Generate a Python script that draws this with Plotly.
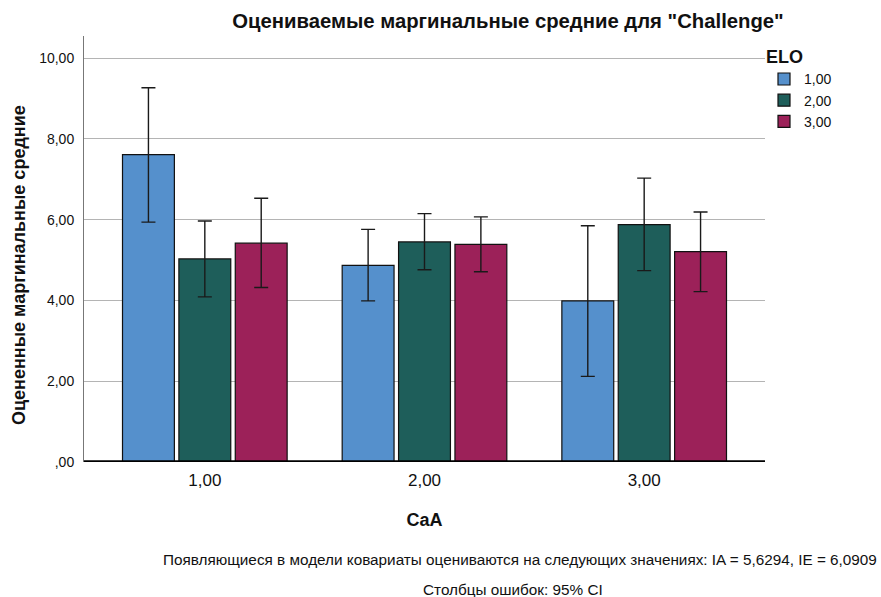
import plotly.graph_objects as go

categories = ["1,00", "2,00", "3,00"]
series_names = ["1,00", "2,00", "3,00"]
means = {
    "1,00": [7.61, 4.87, 3.99],
    "2,00": [5.03, 5.45, 5.88],
    "3,00": [5.42, 5.39, 5.21],
}
ci_upper = {
    "1,00": [9.27, 5.76, 5.85],
    "2,00": [5.97, 6.15, 7.03],
    "3,00": [6.53, 6.07, 6.19],
}
ci_lower = {
    "1,00": [5.94, 3.99, 2.12],
    "2,00": [4.09, 4.76, 4.74],
    "3,00": [4.32, 4.71, 4.22],
}
colors = {"1,00": "#5590CC", "2,00": "#1E5E5A", "3,00": "#9C2159"}
y_ticks = [0, 2, 4, 6, 8, 10]
y_tick_labels = [",00", "2,00", "4,00", "6,00", "8,00", "10,00"]

FONT = "Liberation Sans Narrow, Arial Narrow, Liberation Sans, Arial, sans-serif"

L, R, T, B = 84, 765, 36, 462
PW, PH = R - L, B - T

fig = go.Figure()
for s in series_names:
    m = means[s]
    up = [u - v for u, v in zip(ci_upper[s], m)]
    lo = [v - l for v, l in zip(m, ci_lower[s])]
    fig.add_trace(go.Bar(
        x=[1, 2, 3], y=m, name=s,
        marker=dict(color=colors[s], line=dict(color="#111111", width=1.2)),
        error_y=dict(type="data", symmetric=False, array=up, arrayminus=lo,
                     color="#1a1a1a", thickness=1.4, width=7),
    ))

fig.update_layout(
    width=881, height=597,
    margin=dict(l=L, r=881 - R, t=T, b=597 - B, autoexpand=False),
    paper_bgcolor="white", plot_bgcolor="white",
    barmode="group", bargap=0.23, bargroupgap=0.08,
    font=dict(family=FONT, color="#111111", size=14),
    title=dict(text='Оцениваемые маргинальные средние для "Challenge"',
               x=508 / 881, xanchor="center", y=1 - 21 / 597, yanchor="middle",
               font=dict(size=20.3, family=FONT, weight="bold")),
    legend=dict(title=dict(text="ELO", font=dict(size=18, weight="bold")),
                x=(764 - L) / PW, xanchor="left", y=(B - 40) / PH, yanchor="top",
                font=dict(size=14), tracegroupgap=0, itemwidth=30,
                bgcolor="rgba(0,0,0,0)"),
    xaxis=dict(range=[0.45, 3.55], tickvals=[1, 2, 3], ticktext=categories,
               showgrid=False, showline=False, zeroline=False, ticks="",
               tickfont=dict(size=17), ticklabelstandoff=6, automargin=False,
               title=dict(text="CaA", font=dict(size=18, weight="bold"), standoff=24)),
    yaxis=dict(range=[0, 10.55], tickvals=y_ticks, ticktext=y_tick_labels,
               showgrid=True, gridcolor="#b4b4b4", gridwidth=1.2,
               showline=True, linecolor="#777777", linewidth=1,
               zeroline=False, ticks="", tickfont=dict(size=14),
               ticklabelstandoff=6, automargin=False),
    annotations=[
        dict(text="Оцененные маргинальные средние", textangle=-90,
             xref="paper", yref="paper", x=-(L - 19) / PW, xanchor="center",
             y=(B - 265) / PH, yanchor="middle", showarrow=False,
             font=dict(size=18, weight="bold")),
        dict(text="Появляющиеся в модели ковариаты оцениваются на следующих значениях: IA = 5,6294, IE = 6,0909",
             xref="paper", yref="paper", x=(520 - L) / PW, xanchor="center",
             y=-(559 - B) / PH, yanchor="middle", showarrow=False,
             font=dict(size=15.3)),
        dict(text="Столбцы ошибок: 95% CI",
             xref="paper", yref="paper", x=(513 - L) / PW, xanchor="center",
             y=-(589 - B) / PH, yanchor="middle", showarrow=False,
             font=dict(size=15.3)),
    ],
    shapes=[dict(type="line", xref="paper", yref="y", x0=0, x1=1, y0=0, y1=0,
                 line=dict(color="black", width=3.5))],
)

fig.write_html("out.html", config={"displayModeBar": False},
               post_script="document.body.style.margin='0';document.body.style.padding='0';")
